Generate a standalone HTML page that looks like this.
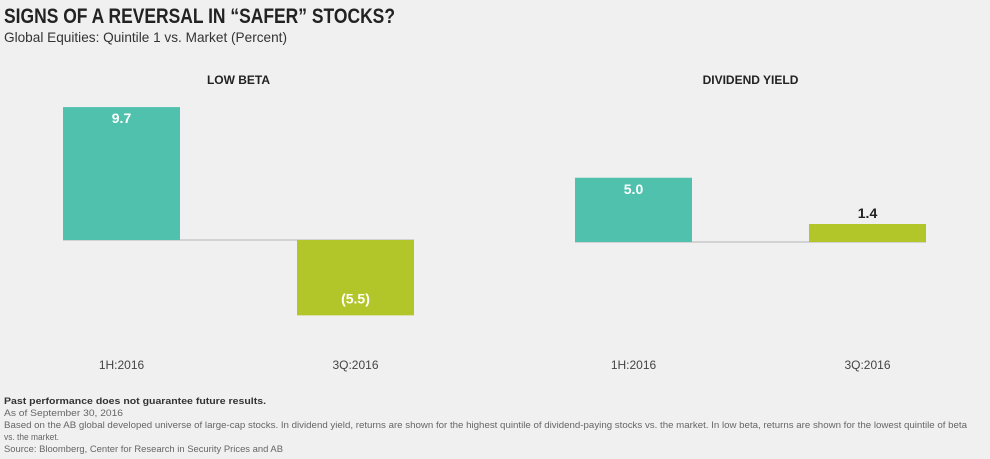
<!DOCTYPE html>
<html><head><meta charset="utf-8"><style>
body{margin:0;background:#f0f0f0}
svg{display:block;font-family:"Liberation Sans Narrow","Liberation Sans",sans-serif}
</style></head><body>
<svg id="c" width="990" height="459" viewBox="0 0 990 459">
<rect width="990" height="459" fill="#f0f0f0"/>
<text x="4" y="23" font-size="21" font-weight="bold" fill="#222" textLength="391" lengthAdjust="spacingAndGlyphs">SIGNS OF A REVERSAL IN “SAFER” STOCKS?</text>
<text x="4" y="42" font-size="14" fill="#333" textLength="283" lengthAdjust="spacingAndGlyphs">Global Equities: Quintile 1 vs. Market (Percent)</text>
<g id="panels"></g>
<g fill="#666" font-size="9">
<text x="4" y="404" font-weight="bold" fill="#333" textLength="262" lengthAdjust="spacingAndGlyphs">Past performance does not guarantee future results.</text>
<text x="4" y="416" textLength="119" lengthAdjust="spacingAndGlyphs">As of September 30, 2016</text>
<text x="4" y="428" textLength="963" lengthAdjust="spacingAndGlyphs">Based on the AB global developed universe of large-cap stocks. In dividend yield, returns are shown for the highest quintile of dividend-paying stocks vs. the market. In low beta, returns are shown for the lowest quintile of beta</text>
<text x="4" y="440" textLength="55" lengthAdjust="spacingAndGlyphs">vs. the market.</text>
<text x="4" y="452" textLength="279" lengthAdjust="spacingAndGlyphs">Source: Bloomberg, Center for Research in Security Prices and AB</text>
</g>
</svg>
<script>
const categories = ["1H:2016", "3Q:2016"];
const panelTitles = ["LOW BETA", "DIVIDEND YIELD"];
const lowBetaValues = [9.7, -5.5];
const dividendYieldValues = [5.0, 1.4];
const valueLabels = [["9.7", "(5.5)"], ["5.0", "1.4"]];
const colors = ["#4fc1ad", "#b3c629"];
const NS = "http://www.w3.org/2000/svg";
const g = document.getElementById("panels");
function mk(tag, attrs, txt){const e=document.createElementNS(NS,tag);for(const k in attrs)e.setAttribute(k,attrs[k]);if(txt!=null)e.textContent=txt;g.appendChild(e);return e;}
const panels = [
  {vals: lowBetaValues, x0: 63, base: 240, scale: 13.7},
  {vals: dividendYieldValues, x0: 575, base: 242, scale: 12.85}
];
panels.forEach((p, pi) => {
  const y = v => p.base - v * p.scale;
  const bw = 117, step = 234;
  const t = mk("text", {x: p.x0 + 175.5, y: 84, "font-size": 12, "font-weight": "bold", fill: "#222", "text-anchor": "middle"}, panelTitles[pi]);
  
  
  const ln = mk("line", {x1: p.x0, x2: p.x0 + step + bw, y1: p.base, y2: p.base, stroke: "#c8c8c8", "stroke-width": 1.5});
  
  
  p.vals.forEach((v, i) => {
    const x = p.x0 + i * step;
    const top = Math.min(y(v), y(0)), h = Math.abs(y(v) - y(0));
    const r = mk("rect", {x: x, y: top, width: bw, height: h, fill: colors[i]});
    
    
    const inside = h > 30;
    const ly = v >= 0 ? (inside ? top + 16 : top - 6) : top + h - 12;
    const lt = mk("text", {x: x + bw / 2, y: ly, "font-size": 14, "font-weight": "bold", fill: inside ? "#fff" : "#222", "text-anchor": "middle"}, valueLabels[pi][i]);
    
    
    const ct = mk("text", {x: x + bw / 2, y: 369, "font-size": 12, fill: "#444", "text-anchor": "middle"}, categories[i]);
    
    
  });
});
</script>
</body></html>
